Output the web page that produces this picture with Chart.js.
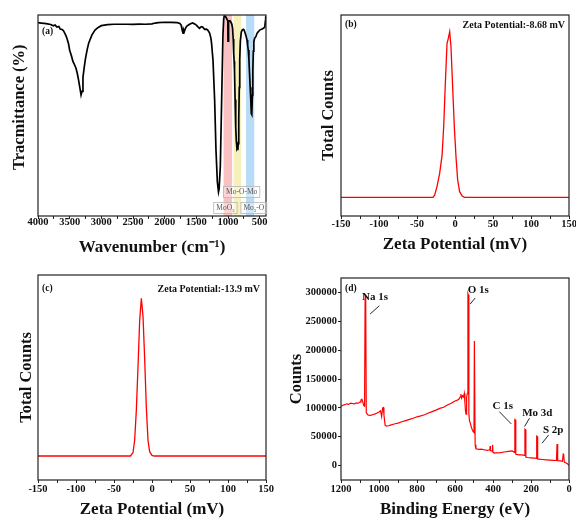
<!DOCTYPE html>
<html>
<head>
<meta charset="utf-8">
<script src="https://cdn.jsdelivr.net/npm/chart.js@4.4.1/dist/chart.umd.min.js"></script>
<style>
    html, body { margin: 0; padding: 0; background: #fff; }
    #page { position: relative; width: 576px; height: 518px; overflow: hidden; }
    #page canvas { position: absolute; }
</style>
</head>
<body>
<div id="page">
    <canvas id="ftirChart" width="288" height="259" style="left:0px;top:0px"></canvas>
    <canvas id="zetaBChart" width="286" height="259" style="left:290px;top:0px"></canvas>
    <canvas id="zetaCChart" width="288" height="259" style="left:0px;top:259px"></canvas>
    <canvas id="xpsChart" width="286" height="259" style="left:290px;top:259px"></canvas>
</div>
<script>
// (a) FTIR spectrum
const ftirWavenumber = [4000, 3950, 3900, 3850, 3800, 3760, 3730, 3700, 3670, 3650, 3620, 3600, 3570, 3550, 3520, 3500,
    3470, 3450, 3420, 3400, 3380, 3360, 3340, 3320, 3305, 3290, 3270, 3250, 3225, 3200, 3150, 3100, 3050, 3000,
    2900, 2800, 2600, 2500, 2400, 2300, 2200, 2150, 2100, 2000, 1900, 1800, 1760, 1740, 1720, 1710, 1700, 1690,
    1670, 1650, 1600, 1560, 1530, 1500, 1470, 1450, 1420, 1400, 1370, 1340, 1320, 1290, 1270, 1260, 1237, 1211,
    1190, 1168, 1150, 1140, 1121, 1095, 1080, 1068, 1060, 1045, 1030, 1010, 1003, 1000, 997, 985, 970, 955, 940,
    928, 918, 910, 903, 897, 888, 878, 868, 858, 850, 845, 838, 830, 822, 815, 805, 790, 775, 760, 745, 730, 715,
    700, 690, 680, 670, 660, 650, 640, 632, 627, 622, 615, 608, 600, 592, 580, 560, 540, 520, 500, 470, 440, 420,
    410, 405, 400];
const ftirTransmittance = [96.2, 96.0, 95.8, 95.6, 95.3, 94.6, 95.0, 94.0, 94.3, 93.0, 92.8, 92.3, 90.5, 89.0, 86.0, 82.5,
    79.5, 77.0, 75.0, 73.5, 71.0, 67.7, 64.0, 60.2, 62.0, 69.0, 74.0, 78.4, 82.5, 86.0, 90.0, 92.5, 93.8, 94.7,
    95.2, 95.4, 95.4, 95.3, 95.5, 95.4, 95.6, 96.0, 96.2, 96.4, 96.3, 96.2, 95.8, 95.0, 92.0, 91.0, 92.5, 91.7,
    93.5, 94.5, 95.5, 96.0, 95.6, 95.0, 94.0, 93.4, 94.2, 94.0, 92.9, 93.0, 92.5, 91.0, 88.5, 86.0, 77.6, 57.7,
    33.0, 17.0, 12.0, 13.5, 25.0, 66.0, 90.0, 98.0, 99.5, 99.5, 98.8, 97.5, 97.0, 87.0, 96.5, 97.0, 97.2, 96.5, 95.5,
    93.5, 88.0, 81.0, 77.0, 72.0, 58.0, 44.0, 37.0, 33.5, 34.0, 32.8, 36.0, 48.0, 64.0, 77.6, 87.0, 91.5, 92.5, 92.9, 92.5, 91.0, 89.5,
    87.6, 85.0, 82.6, 78.0, 71.0, 64.0, 57.7, 51.0, 52.0, 50.5, 60.0, 72.0, 82.0, 86.7, 88.4, 89.2, 91.0, 91.7, 92.5, 92.9, 93.4, 94.0,
    97.0, 99.0, 99.5];
const ftirTicks = [4000, 3500, 3000, 2500, 2000, 1500, 1000, 500];
const ftirMinorTicks = [3750, 3250, 2750, 2250, 1750, 1250, 750];
// absorption bands (wavenumber ranges) and their labels, "_" marks a subscript digit
const ftirBandRanges = [[1070, 935], [910, 793], [715, 585]];
const ftirBandNames = ['MoO_3', 'Mo-O-Mo', 'Mo_3-O'];
const ftirBandLabelAt = [1041, 784, 592];

// (b) zeta potential, sample 1
const zetaB_mV = [-150, -29, -26.8, -23.7, -20.2, -17, -14.9, -12.7, -10.5, -8.8, -7, -5.3, -3.1, -0.9, 1.3, 3.5, 6.1, 9.2, 12.3, 150];
const zetaB_counts = [9.3, 9.3, 10.4, 14.6, 21.2, 30.3, 44.4, 66, 85.9, 88.4, 91.7, 84.2, 64.3, 44.4, 29.5, 17.9, 12.1, 10, 9.3, 9.3];

// (c) zeta potential, sample 2
const zetaC_mV = [-150, -28.5, -25, -22.8, -20.6, -18.4, -16.2, -14, -11.8, -9.6, -7.5, -5.3, -3.1, 0, 3, 150];
const zetaC_counts = [11.7, 11.7, 13.3, 19.5, 34.1, 55.3, 78, 88.6, 79.7, 58.5, 35.8, 19.5, 13.8, 12, 11.7, 11.7];
const zetaTicks = [-150, -100, -50, 0, 50, 100, 150];
const zetaMinorTicks = [-125, -75, -25, 25, 75, 125];

// (d) XPS survey
const xpsEnergy = [1200, 1190, 1180, 1170, 1160, 1150, 1140, 1130, 1120, 1110, 1100, 1095, 1090, 1085, 1080, 1076,
    1073, 1070, 1067, 1060, 1050, 1040, 1030, 1020, 1010, 1000, 992, 986, 981, 977, 974, 968, 960, 950, 940, 920,
    900, 880, 860, 840, 820, 800, 780, 760, 740, 720, 700, 680, 660, 640, 620, 600, 590, 580, 572, 569, 565, 560,
    555, 551, 548, 545, 542, 539, 535, 532, 530, 527, 524, 520, 515, 510, 505, 500, 498, 496, 494, 490, 480, 470,
    460, 450, 440, 430, 420, 417, 415, 413, 405, 402, 400, 395, 380, 360, 340, 320, 300, 292, 288, 285, 283, 280,
    270, 260, 250, 240, 235, 232, 230, 227, 220, 200, 180, 172, 170, 168, 165, 160, 140, 120, 100, 80, 66, 63, 61,
    58, 45, 35, 30, 28, 25, 15, 8, 3, 0];
const xpsCounts = [103000, 104500, 105500, 107000, 106000, 108000, 107500, 106800, 108500, 108000, 110000, 113500, 115000, 110000, 104000, 103000,
    294000, 293000, 92000, 88000, 87000, 87500, 88500, 89500, 91000, 93000, 95000, 85000, 100000, 100500, 88000, 70000, 68500, 69000, 70000, 72000,
    73500, 76000, 78000, 80000, 82000, 84500, 86000, 88000, 91000, 93500, 96000, 99000, 101000, 105000, 108000, 112000, 113000, 115000, 119000, 124000, 117000, 121000,
    119000, 125000, 110000, 95000, 89000, 118000, 125000, 298000, 296000, 90000, 78000, 74000, 68000, 63000, 59000, 57000, 216000, 216000, 36000, 29000, 28500, 28000,
    28500, 27500, 27000, 26500, 27000, 27500, 34000, 26000, 25000, 36000, 23000, 22000, 22000, 22500, 23500, 24500, 25500, 24000, 23000, 80000, 79500, 19500,
    19000, 18500, 18500, 18000, 17500, 63000, 62500, 14500, 14000, 13500, 13000, 12500, 51000, 50500, 11500, 11000, 10500, 10000, 9500, 9000, 8800, 37500, 37000,
    8500, 8000, 7500, 20000, 19500, 6000, 4500, 3000, 1500, 500];
const xpsEnergyTicks = [1200, 1000, 800, 600, 400, 200, 0];
const xpsEnergyMinorTicks = [1100, 900, 700, 500, 300, 100];
const xpsCountTicks = [0, 50000, 100000, 150000, 200000, 250000, 300000];
const xpsPeakNames = ['Na 1s', 'O 1s', 'C 1s', 'Mo 3d', 'S 2p'];
const xpsPeakLabelAt = [[1021, 292500], [478, 304700], [349, 102200], [167, 91300], [83, 61800]];
const xpsPeakLeaders = [[[998, 276900], [1047, 262500]], [[494, 290300], [520, 279900]], [[367, 93500], [304, 72200]],
    [[208, 82100], [234, 67500]], [[107, 53100], [142, 38700]]];

const SERIF = "'Liberation Serif', 'Times New Roman', serif";
Chart.defaults.font.family = SERIF;
Chart.defaults.color = '#111';

function toPoints(xs, ys) {
    return xs.map((x, i) => ({ x: x, y: ys[i] }));
}

// box around the plot area
const framePlugin = {
    id: 'frame',
    afterDatasetsDraw(chart) {
        const a = chart.chartArea;
        const ctx = chart.ctx;
        ctx.save();
        ctx.strokeStyle = '#222';
        ctx.lineWidth = 1.2;
        ctx.strokeRect(a.left, a.top, a.right - a.left, a.bottom - a.top);
        ctx.restore();
    }
};

// panel letter and corner note
function cornerTextPlugin(letter, letterDy, note, noteDx, noteDy) {
    return {
        id: 'cornerText',
        afterDraw(chart) {
            const a = chart.chartArea;
            const ctx = chart.ctx;
            ctx.save();
            ctx.fillStyle = '#111';
            ctx.textBaseline = 'middle';
            ctx.font = 'bold 9.5px ' + SERIF;
            ctx.textAlign = 'left';
            ctx.fillText(letter, a.left + 4, a.top + letterDy);
            if (note) {
                ctx.font = 'bold 10px ' + SERIF;
                ctx.textAlign = 'right';
                ctx.fillText(note, a.right + noteDx, a.top + noteDy);
            }
            ctx.restore();
        }
    };
}

// split "MoO_3" into plain and subscript pieces
function splitSub(text) {
    const parts = [];
    let i = 0;
    while (i < text.length) {
        if (text[i] === '_') {
            parts.push({ t: text[i + 1], sub: true });
            i += 2;
        } else {
            let j = text.indexOf('_', i);
            if (j < 0) j = text.length;
            parts.push({ t: text.slice(i, j), sub: false });
            i = j;
        }
    }
    return parts;
}

const bandColors = ['#f9c1c1', '#f6f0bb', '#b8dcf6'];
const bandPlugin = {
    id: 'bands',
    beforeDatasetsDraw(chart) {
        const a = chart.chartArea;
        const xs = chart.scales.x;
        const ctx = chart.ctx;
        ctx.save();
        ftirBandRanges.forEach((r, i) => {
            const x1 = xs.getPixelForValue(r[0]);
            const x2 = xs.getPixelForValue(r[1]);
            ctx.fillStyle = bandColors[i];
            ctx.fillRect(x1, a.top, x2 - x1, a.bottom - a.top);
        });
        ctx.restore();
    },
    afterDatasetsDraw(chart) {
        const a = chart.chartArea;
        const xs = chart.scales.x;
        const ctx = chart.ctx;
        const rows = [8, 24, 8]; // box centre above the bottom axis
        const mainFont = '7.5px ' + SERIF;
        const subFont = '5px ' + SERIF;
        ctx.save();
        ctx.textBaseline = 'middle';
        ctx.textAlign = 'left';
        ftirBandNames.forEach((name, i) => {
            const parts = splitSub(name);
            let w = 0;
            parts.forEach(p => {
                ctx.font = p.sub ? subFont : mainFont;
                p.w = ctx.measureText(p.t).width;
                w += p.w;
            });
            const cx = xs.getPixelForValue(ftirBandLabelAt[i]);
            const cy = a.bottom - rows[i];
            const bw = w + 5;
            ctx.fillStyle = 'rgba(255,255,255,0.35)';
            ctx.fillRect(cx - bw / 2, cy - 5.5, bw, 11);
            ctx.strokeStyle = '#b5b5b5';
            ctx.lineWidth = 0.8;
            ctx.strokeRect(cx - bw / 2, cy - 5.5, bw, 11);
            ctx.fillStyle = '#555';
            let x = cx - w / 2;
            parts.forEach(p => {
                ctx.font = p.sub ? subFont : mainFont;
                ctx.fillText(p.t, x, p.sub ? cy + 2.5 : cy + 0.5);
                x += p.w;
            });
        });
        ctx.restore();
    }
};

const xpsLabelPlugin = {
    id: 'xpsLabels',
    afterDatasetsDraw(chart) {
        const xs = chart.scales.x;
        const ys = chart.scales.y;
        const ctx = chart.ctx;
        ctx.save();
        ctx.font = 'bold 11px ' + SERIF;
        ctx.fillStyle = '#111';
        ctx.strokeStyle = '#111';
        ctx.lineWidth = 0.9;
        ctx.textAlign = 'center';
        ctx.textBaseline = 'middle';
        xpsPeakNames.forEach((name, i) => {
            const p = xpsPeakLabelAt[i];
            ctx.fillText(name, xs.getPixelForValue(p[0]), ys.getPixelForValue(p[1]));
            const l = xpsPeakLeaders[i];
            ctx.beginPath();
            ctx.moveTo(xs.getPixelForValue(l[0][0]), ys.getPixelForValue(l[0][1]));
            ctx.lineTo(xs.getPixelForValue(l[1][0]), ys.getPixelForValue(l[1][1]));
            ctx.stroke();
        });
        ctx.restore();
    }
};

function buildPanel(canvasId, cfg) {
    const canvas = document.getElementById(canvasId);
    const W = canvas.width;
    const H = canvas.height;
    const area = cfg.area;
    const tickFont = { family: SERIF, size: 10.5, weight: 'bold' };
    const titleFont = { family: SERIF, size: 16.5, weight: 'bold', lineHeight: 1 };

    const yScale = {
        type: 'linear',
        min: cfg.yMin,
        max: cfg.yMax,
        border: { display: false },
        title: { display: true, text: cfg.yTitle, font: titleFont, color: '#111', padding: { top: cfg.yTitlePad || 0, bottom: 0 } },
        afterFit: (s) => { s.width = area.left - cfg.padLeft; }
    };
    if (cfg.yTicks) {
        yScale.grid = { display: true, drawOnChartArea: false, tickLength: 3, color: '#222', tickColor: '#222' };
        yScale.ticks = { font: tickFont, color: '#111', padding: 1, callback: (v) => String(v) };
        yScale.afterBuildTicks = (s) => { s.ticks = cfg.yTicks.map(v => ({ value: v })); };
    } else {
        yScale.grid = { display: false };
        yScale.ticks = { display: false };
    }

    return new Chart(canvas, {
        type: 'line',
        data: {
            datasets: [{
                data: cfg.points,
                borderColor: cfg.color,
                borderWidth: cfg.lineWidth,
                pointRadius: 0,
                tension: 0,
                fill: false
            }]
        },
        options: {
            responsive: false,
            animation: false,
            events: [],
            layout: { padding: { left: cfg.padLeft, top: area.top, right: W - area.right, bottom: cfg.padBottom } },
            plugins: { legend: { display: false }, tooltip: { enabled: false } },
            scales: {
                x: {
                    type: 'linear',
                    min: cfg.xMin,
                    max: cfg.xMax,
                    reverse: !!cfg.reverse,
                    border: { display: false },
                    grid: { display: true, drawOnChartArea: false, tickLength: 3, color: '#222', tickColor: '#222' },
                    ticks: {
                        font: tickFont,
                        color: '#111',
                        padding: cfg.tickPad,
                        autoSkip: false,
                        maxRotation: 0,
                        callback: (v) => cfg.xTicks.includes(v) ? String(v) : ''
                    },
                    title: { display: true, text: cfg.xTitle, font: { family: SERIF, size: 17, weight: 'bold', lineHeight: 1 }, color: '#111', padding: { top: 0, bottom: 0 } },
                    afterBuildTicks: (s) => {
                        s.ticks = cfg.xTicks.concat(cfg.xMinor).sort((p, q) => p - q).map(v => ({ value: v }));
                    },
                    afterFit: (s) => {
                        s.height = H - cfg.padBottom - area.bottom;
                        s.paddingLeft = 0;
                        s.paddingRight = 0;
                    }
                },
                y: yScale
            }
        },
        plugins: [framePlugin].concat(cfg.plugins || [])
    });
}

buildPanel('ftirChart', {
    points: toPoints(ftirWavenumber, ftirTransmittance),
    color: '#000', lineWidth: 1.7,
    xMin: 400, xMax: 4000, reverse: true,
    xTicks: ftirTicks, xMinor: ftirMinorTicks,
    yMin: 0, yMax: 100,
    // leading spaces nudge the rotated title up a little, as in the original
    xTitle: 'Wavenumber (cm\u207B\u00B9)', yTitle: '    Tracmittance (%)',
    area: { left: 38, top: 15, right: 266, bottom: 216 },
    padLeft: 11, padBottom: 3, tickPad: -3,
    plugins: [bandPlugin, cornerTextPlugin('(a)', 17)]
});

buildPanel('zetaBChart', {
    points: toPoints(zetaB_mV, zetaB_counts),
    color: '#ff0000', lineWidth: 1.3,
    xMin: -150, xMax: 150,
    xTicks: zetaTicks, xMinor: zetaMinorTicks,
    yMin: 0, yMax: 100,
    xTitle: 'Zeta Potential (mV)', yTitle: 'Total Counts',
    area: { left: 51, top: 15, right: 279, bottom: 216 },
    padLeft: 30, padBottom: 6, tickPad: -1,
    plugins: [cornerTextPlugin('(b)', 10, 'Zeta Potential:-8.68 mV', -4, 10)]
});

buildPanel('zetaCChart', {
    points: toPoints(zetaC_mV, zetaC_counts),
    color: '#ff0000', lineWidth: 1.3,
    xMin: -150, xMax: 150,
    xTicks: zetaTicks, xMinor: zetaMinorTicks,
    yMin: 0, yMax: 100,
    xTitle: 'Zeta Potential (mV)', yTitle: 'Total Counts',
    area: { left: 38, top: 16, right: 266, bottom: 221 },
    padLeft: 18, padBottom: 0, tickPad: 0,
    plugins: [cornerTextPlugin('(c)', 14, 'Zeta Potential:-13.9 mV', -6, 14)]
});

buildPanel('xpsChart', {
    points: toPoints(xpsEnergy, xpsCounts),
    color: '#ff0000', lineWidth: 1.2,
    xMin: 0, xMax: 1200, reverse: true,
    xTicks: xpsEnergyTicks, xMinor: xpsEnergyMinorTicks,
    yMin: -25000, yMax: 325000, yTicks: xpsCountTicks,
    xTitle: 'Binding Energy (eV)', yTitle: 'Counts',
    area: { left: 51, top: 19, right: 279, bottom: 221 },
    padLeft: 0, padBottom: 0, tickPad: 0, yTitlePad: -2,
    plugins: [xpsLabelPlugin, cornerTextPlugin('(d)', 11)]
});
</script>
</body>
</html>
